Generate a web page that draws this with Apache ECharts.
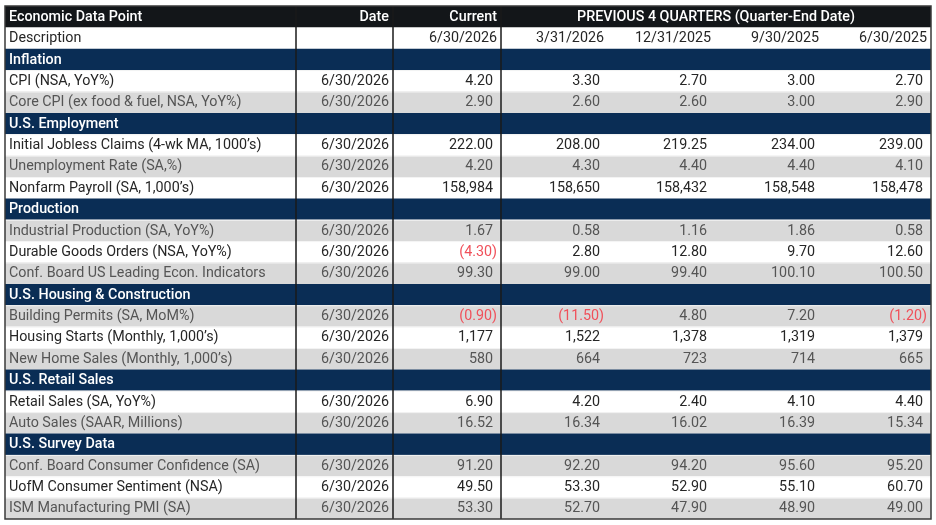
<!DOCTYPE html>
<html>
<head>
<meta charset="utf-8">
<title>Economic Data Points</title>
<script src="https://cdn.jsdelivr.net/npm/echarts@6/dist/echarts.min.js"></script>
<style>
    html, body { margin: 0; padding: 0; background: #fff; }
    #main { width: 936px; height: 525px; }
</style>
</head>
<body>
<div id="main"></div>
<script>
// ---- data ----
var headerLabels = ['Economic Data Point', 'Date', 'Current', 'PREVIOUS 4 QUARTERS (Quarter-End Date)'];
var descLabel = 'Description';
var currentDate = '6/30/2026';
var quarterDates = ['3/31/2026', '12/31/2025', '9/30/2025', '6/30/2025'];

var sections = ['Inflation', 'U.S. Employment', 'Production', 'U.S. Housing & Construction',
    'U.S. Retail Sales', 'U.S. Survey Data'];

var indicators = [
    'CPI (NSA, YoY%)',
    'Core CPI (ex food & fuel, NSA, YoY%)',
    'Initial Jobless Claims (4-wk MA, 1000\u2019s)',
    'Unemployment Rate (SA,%)',
    'Nonfarm Payroll (SA, 1,000\u2019s)',
    'Industrial Production (SA, YoY%)',
    'Durable Goods Orders (NSA, YoY%)',
    'Conf. Board US Leading Econ. Indicators',
    'Building Permits (SA, MoM%)',
    'Housing Starts (Monthly, 1,000\u2019s)',
    'New Home Sales (Monthly, 1,000\u2019s)',
    'Retail Sales (SA, YoY%)',
    'Auto Sales (SAAR, Millions)',
    'Conf. Board Consumer Confidence (SA)',
    'UofM Consumer Sentiment (NSA)',
    'ISM Manufacturing PMI (SA)'
];
var sectionOf = [0, 0, 1, 1, 1, 2, 2, 2, 3, 3, 3, 4, 4, 5, 5, 5];
var asOfDates = ['6/30/2026', '6/30/2026', '6/30/2026', '6/30/2026', '6/30/2026', '6/30/2026',
    '6/30/2026', '6/30/2026', '6/30/2026', '6/30/2026', '6/30/2026', '6/30/2026', '6/30/2026',
    '6/30/2026', '6/30/2026', '6/30/2026'];
var decimals = [2, 2, 2, 2, 0, 2, 2, 2, 2, 0, 0, 2, 2, 2, 2, 2];

var currentValues = [4.20, 2.90, 222.00, 4.20, 158984, 1.67, -4.30, 99.30, -0.90, 1177, 580, 6.90, 16.52, 91.20, 49.50, 53.30];
var q1Values = [3.30, 2.60, 208.00, 4.30, 158650, 0.58, 2.80, 99.00, -11.50, 1522, 664, 4.20, 16.34, 92.20, 53.30, 52.70];
var q2Values = [2.70, 2.60, 219.25, 4.40, 158432, 1.16, 12.80, 99.40, 4.80, 1378, 723, 2.40, 16.02, 94.20, 52.90, 47.90];
var q3Values = [3.00, 3.00, 234.00, 4.40, 158548, 1.86, 9.70, 100.10, 7.20, 1319, 714, 4.10, 16.39, 95.60, 55.10, 48.90];
var q4Values = [2.70, 2.90, 239.00, 4.10, 158478, 0.58, 12.60, 100.50, -1.20, 1379, 665, 4.40, 15.34, 95.20, 60.70, 49.00];

// ---- layout / style ----
var colEdges = [0, 291, 388, 496, 603, 710, 818, 926];   // table x units (px)
var rowShade = ['w', 'g', 'w', 'g', 'w', 'g', 'w', 'g', 'g', 'w', 'g', 'w', 'g', 'g', 'w', 'g'];
var FONT = '14.3px Roboto';
var FONT_HEAD = '500 14.3px Roboto';
var COLORS = {
    head: '#131619', navy: '#0a2d55', white: '#ffffff', gray: '#d9d9d9',
    textDark: '#262626', textGray: '#555555', red: '#f0505a', line: '#1a1a1a'
};

function fmt(v, d) {
    var s = Math.abs(v).toFixed(d).replace(/\B(?=(\d{3})+(?!\d))/g, ',');
    return v < 0 ? '(' + s + ')' : s;
}

// build table rows
var rows = [];
rows.push({
    bg: COLORS.head, cells: [
        {col: 0, text: headerLabels[0], align: 'left', color: '#fff', font: FONT_HEAD},
        {col: 1, text: headerLabels[1], align: 'right', color: '#fff', font: FONT_HEAD},
        {col: 2, text: headerLabels[2], align: 'right', color: '#fff', font: FONT_HEAD},
        {col: 3, colEnd: 7, text: headerLabels[3], align: 'center', color: '#fff', font: FONT_HEAD}
    ]
});
var descCells = [
    {col: 0, text: descLabel, align: 'left', color: COLORS.textDark, font: FONT},
    {col: 2, text: currentDate, align: 'right', color: COLORS.textDark, font: FONT}
];
quarterDates.forEach(function (d, i) {
    descCells.push({col: 3 + i, text: d, align: 'right', color: COLORS.textDark, font: FONT});
});
rows.push({bg: COLORS.white, cells: descCells});

var lastSection = -1;
indicators.forEach(function (name, i) {
    if (sectionOf[i] !== lastSection) {
        lastSection = sectionOf[i];
        rows.push({
            bg: COLORS.navy, cells: [
                {col: 0, text: sections[lastSection], align: 'left', color: '#fff', font: FONT_HEAD}
            ]
        });
    }
    var gray = rowShade[i] === 'g';
    var tc = gray ? COLORS.textGray : COLORS.textDark;
    var cells = [
        {col: 0, text: name, align: 'left', color: tc, font: FONT},
        {col: 1, text: asOfDates[i], align: 'right', color: tc, font: FONT}
    ];
    [currentValues, q1Values, q2Values, q3Values, q4Values].forEach(function (arr, k) {
        var v = arr[i];
        cells.push({
            col: 2 + k, text: fmt(v, decimals[i]), align: 'right',
            color: v < 0 ? COLORS.red : tc, font: FONT, pad: v >= 0
        });
    });
    rows.push({bg: gray ? COLORS.gray : COLORS.white, cells: cells, item: true});
});

var NROWS = rows.length;
var XMAX = colEdges[colEdges.length - 1];

function renderRow(params, api) {
    var r = params.dataIndex;
    var row = rows[r];
    var p0 = api.coord([0, r]);
    var p1 = api.coord([XMAX, r + 1]);
    var yMid = (p0[1] + p1[1]) / 2;
    var children = [{
        type: 'rect',
        shape: {x: p0[0], y: p0[1], width: p1[0] - p0[0], height: p1[1] - p0[1]},
        style: {fill: row.bg}
    }];
    if (row.item) {
        children.push({
            type: 'line',
            shape: {x1: p0[0], y1: p0[1] + 0.5, x2: p1[0], y2: p0[1] + 0.5},
            style: {stroke: '#f3f3f3', lineWidth: 1}
        });
    }
    row.cells.forEach(function (c) {
        var xl = api.coord([colEdges[c.col], r])[0];
        var xr = api.coord([colEdges[c.colEnd || (c.col + 1)], r])[0];
        var x;
        if (c.align === 'left') {
            x = xl + 4;
        } else if (c.align === 'center') {
            x = (xl + xr) / 2;
        } else {
            x = xr - 4 - (c.pad ? 4 : 0);
        }
        children.push({
            type: 'text',
            style: {
                x: x, y: yMid + 0.5, text: c.text, fill: c.color, font: c.font,
                align: c.align, verticalAlign: 'middle',
                textAlign: c.align, textVerticalAlign: 'middle'
            }
        });
    });
    return {type: 'group', children: children};
}

function renderDivider(params, api) {
    var x = api.value(0);
    var a = api.coord([x, 0]);
    var b = api.coord([x, NROWS]);
    return {
        type: 'line',
        shape: {x1: a[0], y1: a[1], x2: b[0], y2: b[1]},
        style: {stroke: COLORS.line, lineWidth: 1.5}
    };
}

function renderFrame(params, api) {
    var a = api.coord([0, 0]);
    var b = api.coord([XMAX, NROWS]);
    return {
        type: 'rect',
        shape: {x: a[0], y: a[1], width: b[0] - a[0], height: b[1] - a[1]},
        style: {fill: 'none', stroke: '#3a3a3a', lineWidth: 1.5}
    };
}

var myChart = echarts.init(document.getElementById('main'));
var option = {
    animation: false,
    backgroundColor: '#ffffff',
    grid: {left: 5, right: 5, top: 6, bottom: 6},
    xAxis: {type: 'value', min: 0, max: XMAX, show: false},
    yAxis: {type: 'value', min: 0, max: NROWS, inverse: true, show: false},
    series: [
        {
            type: 'custom', renderItem: renderRow, silent: true,
            data: rows.map(function (r, i) { return [i]; }),
            encode: {y: 0}
        },
        {
            type: 'custom', renderItem: renderDivider, silent: true,
            data: [[colEdges[1]], [colEdges[2]], [colEdges[3]]],
            encode: {x: 0}
        },
        {
            type: 'custom', renderItem: renderFrame, silent: true,
            data: [[0]]
        }
    ]
};
myChart.setOption(option);
</script>
</body>
</html>
